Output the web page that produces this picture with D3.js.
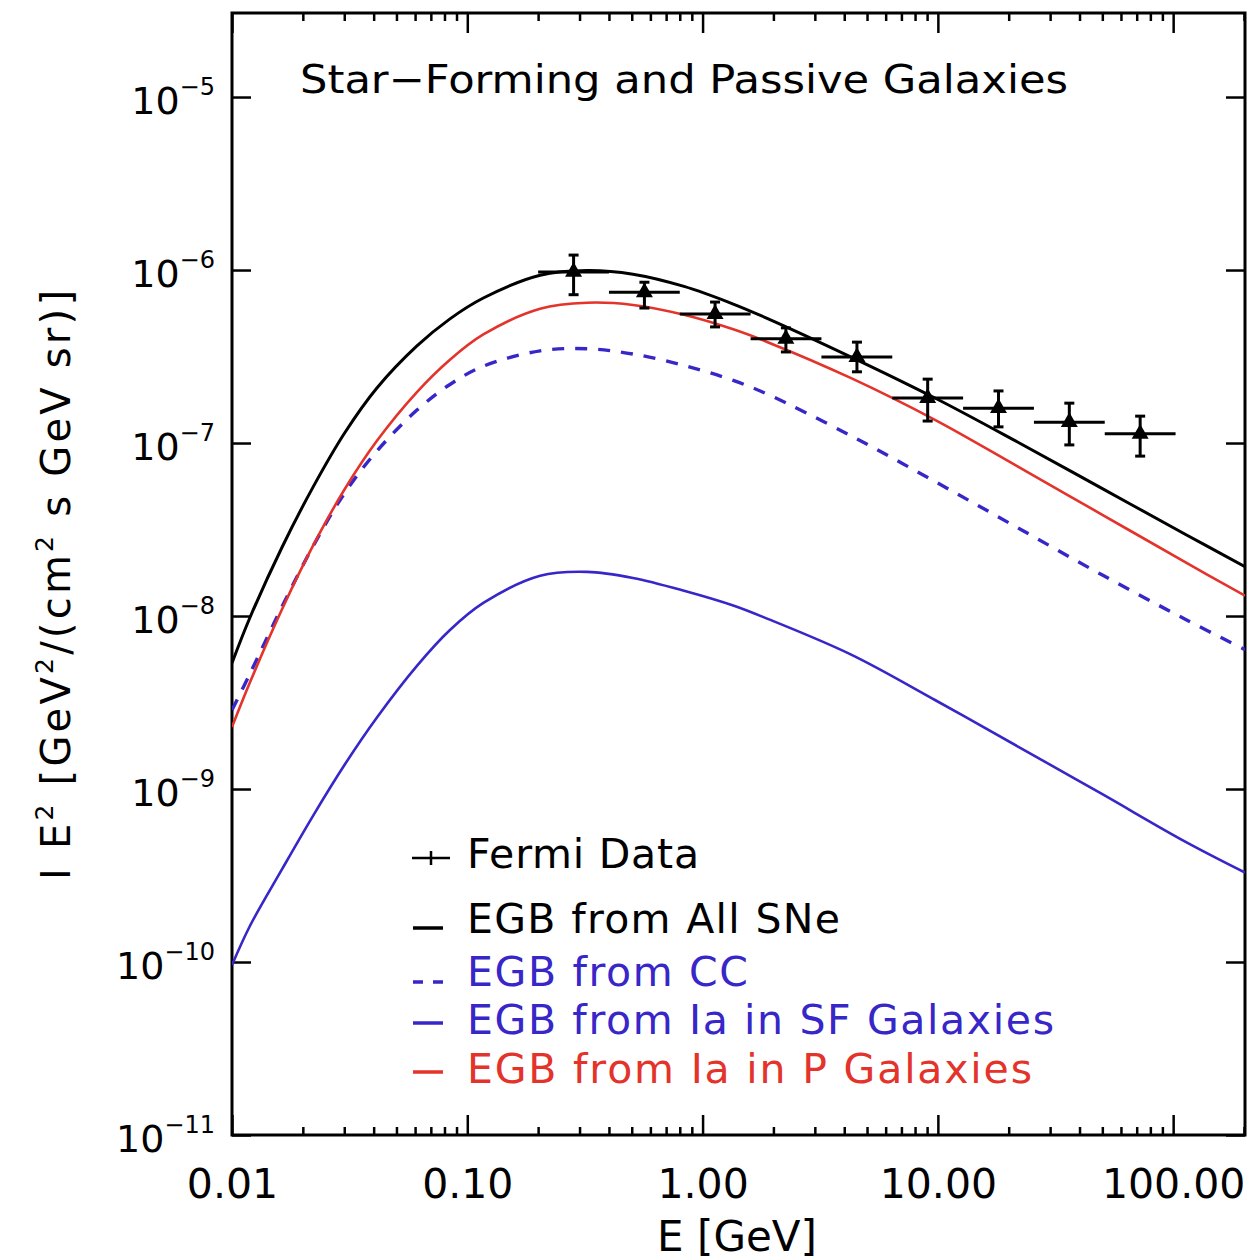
<!DOCTYPE html>
<html>
<head>
<meta charset="utf-8">
<script src="https://cdn.jsdelivr.net/npm/d3@7"></script>
<style>
  body { margin: 0; background: #fff; }
  svg text { font-family: "DejaVu Sans", sans-serif; fill: #000; }
</style>
</head>
<body>
<div id="chart"></div>
<script>
// Energy grid the model curves were read at [GeV]
const energies = [0.01, 0.0119, 0.0163, 0.0221, 0.0302, 0.0413, 0.0611, 0.0844, 0.117, 0.204, 0.323,
                  0.506, 0.834, 1.35, 1.88, 4.28, 9.72, 21.9, 49.8, 113, 202];
// EGB from all SNe (black)
const egbAllSNe = [5.35e-9, 9.74e-9, 2.49e-8, 5.56e-8, 1.15e-7, 2.08e-7, 3.64e-7, 5.22e-7, 6.89e-7, 9.33e-7, 9.93e-7,
                   9.46e-7, 8.04e-7, 6.36e-7, 5.26e-7, 3.14e-7, 1.82e-7, 1.01e-7, 5.47e-8, 2.96e-8, 1.93e-8];
// EGB from core collapse (blue dashed)
const egbCC = [2.86e-9, 4.62e-9, 1.13e-8, 2.53e-8, 5.17e-8, 8.99e-8, 1.55e-7, 2.18e-7, 2.78e-7, 3.41e-7, 3.51e-7,
               3.27e-7, 2.81e-7, 2.30e-7, 1.92e-7, 1.10e-7, 5.99e-8, 3.23e-8, 1.73e-8, 9.55e-9, 6.39e-9];
// EGB from Ia in star-forming galaxies (blue)
const egbIaSF = [9.6e-11, 1.61e-10, 3.43e-10, 7.0e-10, 1.39e-9, 2.59e-9, 5.15e-9, 8.3e-9, 1.19e-8, 1.71e-8, 1.80e-8,
                 1.66e-8, 1.40e-8, 1.15e-8, 9.66e-9, 5.98e-9, 3.27e-9, 1.76e-9, 9.36e-10, 4.95e-10, 3.29e-10];
// EGB from Ia in passive galaxies (red)
const egbIaP = [2.28e-9, 4.11e-9, 1.09e-8, 2.55e-8, 5.44e-8, 1.03e-7, 1.97e-7, 3.03e-7, 4.24e-7, 5.97e-7, 6.47e-7,
                6.28e-7, 5.51e-7, 4.54e-7, 3.84e-7, 2.37e-7, 1.36e-7, 7.3e-8, 3.86e-8, 2.04e-8, 1.31e-8];

// Fermi data points
const fermiE = [0.283, 0.566, 1.13, 2.26, 4.53, 9.05, 18.1, 36.2, 72.4];
const fermiBinLo = [0.2, 0.4, 0.8, 1.6, 3.2, 6.4, 12.8, 25.6, 51.2];
const fermiBinHi = [0.4, 0.8, 1.6, 3.2, 6.4, 12.8, 25.6, 51.2, 102.4];
const fermiI = [9.75e-7, 7.43e-7, 5.57e-7, 4.0e-7, 3.14e-7, 1.82e-7, 1.59e-7, 1.32e-7, 1.13e-7];
const fermiErrHi = [1.22e-6, 8.5e-7, 6.53e-7, 4.63e-7, 3.83e-7, 2.34e-7, 2.0e-7, 1.7e-7, 1.43e-7];
const fermiErrLo = [7.2e-7, 6.03e-7, 4.69e-7, 3.36e-7, 2.58e-7, 1.34e-7, 1.24e-7, 9.75e-8, 8.4e-8];

// Ticks
const xTickValues = [0.01, 0.1, 1, 10, 100];
const xTickLabels = ["0.01", "0.10", "1.00", "10.00", "100.00"];
const yTickExponents = [-11, -10, -9, -8, -7, -6, -5];

// Legend labels
const legendLabels = ["Fermi Data", "EGB from All SNe", "EGB from CC", "EGB from Ia in SF Galaxies", "EGB from Ia in P Galaxies"];

const blue = "#3726c8";
const red = "#e3332b";

const plotChart = (svgElemId) => {
   const svgWidth = 1255;
   const svgHeight = 1260;
   const left = 232, right = 1245, top = 13, bottom = 1135;

   const svg = d3.select(svgElemId)
                 .append("svg")
                 .attr("width", svgWidth)
                 .attr("height", svgHeight);

   // **Scales
   const x = d3.scaleLog().domain([0.01, 202]).range([left, right]);
   const y = d3.scaleLog().domain([1e-11, 3.06e-5]).range([bottom, top]);

   // minor x ticks 2..9 per decade
   const xMinor = [];
   xTickValues.forEach(d => {
      for (let k = 2; k <= 9; k++) if (d * k < 202) xMinor.push(d * k);
   });

   // **Axes (inward ticks)
   const tickStyle = g => {
      g.select(".domain").remove();
      g.selectAll("line").attr("stroke", "#000").attr("stroke-width", 2.5);
   };
   svg.append("g")
      .attr("transform", `translate(0, ${bottom})`)
      .call(d3.axisBottom(x).tickValues(xTickValues).tickSizeInner(-20).tickSizeOuter(0)
               .tickPadding(34).tickFormat((d, i) => xTickLabels[i]))
      .call(tickStyle)
      .call(g => g.selectAll("text").attr("font-size", 41).attr("fill", "#000"));
   svg.append("g")
      .attr("transform", `translate(0, ${bottom})`)
      .call(d3.axisBottom(x).tickValues(xMinor).tickSizeInner(-8).tickSizeOuter(0).tickFormat(""))
      .call(tickStyle);
   svg.append("g")
      .attr("transform", `translate(0, ${top})`)
      .call(d3.axisTop(x).tickValues(xTickValues).tickSizeInner(-20).tickSizeOuter(0).tickFormat(""))
      .call(tickStyle);
   svg.append("g")
      .attr("transform", `translate(0, ${top})`)
      .call(d3.axisTop(x).tickValues(xMinor).tickSizeInner(-8).tickSizeOuter(0).tickFormat(""))
      .call(tickStyle);

   const yTicks = yTickExponents.map(e => Math.pow(10, e));
   svg.append("g")
      .attr("transform", `translate(${left}, 0)`)
      .call(d3.axisLeft(y).tickValues(yTicks).tickSizeInner(-19).tickSizeOuter(0).tickFormat(""))
      .call(tickStyle);
   svg.append("g")
      .attr("transform", `translate(${right}, 0)`)
      .call(d3.axisRight(y).tickValues(yTicks).tickSizeInner(-19).tickSizeOuter(0).tickFormat(""))
      .call(tickStyle);

   // y tick labels with superscript exponents
   svg.append("g")
      .selectAll("text")
      .data(yTickExponents)
      .join("text")
      .attr("x", 215)
      .attr("y", d => y(Math.pow(10, d)) + 17)
      .attr("text-anchor", "end")
      .attr("font-size", 38)
      .each(function(d) {
         const t = d3.select(this);
         t.append("tspan").text("10");
         t.append("tspan").attr("dy", -19).attr("font-size", 24).text("\u2212" + Math.abs(d));
      });

   // **Frame
   svg.append("rect")
      .attr("x", left).attr("y", top)
      .attr("width", right - left).attr("height", bottom - top)
      .attr("fill", "none").attr("stroke", "#000").attr("stroke-width", 3);

   // **Axis titles
   svg.append("text")
      .attr("x", 737).attr("y", 1251)
      .attr("text-anchor", "middle")
      .attr("font-size", 42)
      .text("E  [GeV]");

   const yTitle = svg.append("text")
      .attr("transform", "translate(70, 585) rotate(-90)")
      .attr("text-anchor", "middle")
      .attr("font-size", 40)
      .attr("textLength", 590)
      .attr("lengthAdjust", "spacing");
   const sup = (txt) => { yTitle.append("tspan").attr("dy", -17).attr("font-size", 25).text(txt); };
   const base = (txt, first) => { yTitle.append("tspan").attr("dy", first ? 0 : 17).text(txt); };
   base("I E", true); sup("2"); base(" [GeV"); sup("2"); base("/(cm"); sup("2"); base(" s GeV sr)]");

   // **Title
   svg.append("text")
      .attr("x", 300).attr("y", 93)
      .attr("font-size", 39)
      .attr("textLength", 768)
      .attr("lengthAdjust", "spacingAndGlyphs")
      .text("Star\u2212Forming and Passive Galaxies");

   // **Model curves
   svg.append("clipPath").attr("id", "plot-clip")
      .append("rect")
      .attr("x", left).attr("y", top)
      .attr("width", right - left).attr("height", bottom - top);

   const line = d3.line()
                  .x(d => x(d[0]))
                  .y(d => y(d[1]))
                  .curve(d3.curveCatmullRom.alpha(0.5));

   const curves = [
      { values: egbIaSF, color: blue, width: 2.6, dash: null },
      { values: egbCC, color: blue, width: 3.4, dash: "12,11" },
      { values: egbIaP, color: red, width: 2.6, dash: null },
      { values: egbAllSNe, color: "#000", width: 3, dash: null }
   ];
   const gCurves = svg.append("g").attr("clip-path", "url(#plot-clip)");
   curves.forEach(c => {
      gCurves.append("path")
             .datum(energies.map((e, i) => [e, c.values[i]]))
             .attr("d", line)
             .attr("fill", "none")
             .attr("stroke", c.color)
             .attr("stroke-width", c.width)
             .attr("stroke-dasharray", c.dash);
   });

   // **Fermi data with error bars
   const gFermi = svg.append("g").attr("stroke", "#000").attr("stroke-width", 3);
   fermiE.forEach((e, i) => {
      gFermi.append("line")
            .attr("x1", x(fermiBinLo[i])).attr("x2", x(fermiBinHi[i]))
            .attr("y1", y(fermiI[i])).attr("y2", y(fermiI[i]));
      gFermi.append("line")
            .attr("x1", x(e)).attr("x2", x(e))
            .attr("y1", y(fermiErrLo[i])).attr("y2", y(fermiErrHi[i]));
      [fermiErrLo[i], fermiErrHi[i]].forEach(v => {
         gFermi.append("line")
               .attr("x1", x(e) - 5).attr("x2", x(e) + 5)
               .attr("y1", y(v)).attr("y2", y(v));
      });
      svg.append("path")
         .attr("d", d3.symbol(d3.symbolTriangle, 125)())
         .attr("transform", `translate(${x(e)}, ${y(fermiI[i])})`)
         .attr("fill", "#000");
   });

   // **Legend
   const legendX = 467;
   const legendY = [868, 933, 986, 1034, 1083];
   const legendWidths = [232, 373, 281, 587, 565];
   const legendColors = ["#000", "#000", blue, blue, red];
   const gLegend = svg.append("g");
   gLegend.selectAll("text")
          .data(legendLabels)
          .join("text")
          .attr("x", legendX)
          .attr("y", (d, i) => legendY[i])
          .attr("font-size", 41)
          .attr("textLength", (d, i) => legendWidths[i])
          .attr("lengthAdjust", "spacing")
          .style("fill", (d, i) => legendColors[i])
          .text(d => d);
   // plus sign for Fermi data
   gLegend.append("line").attr("x1", 412).attr("x2", 450).attr("y1", 858).attr("y2", 858)
          .attr("stroke", "#000").attr("stroke-width", 2.5);
   gLegend.append("line").attr("x1", 431).attr("x2", 431).attr("y1", 851).attr("y2", 865)
          .attr("stroke", "#000").attr("stroke-width", 2.5);
   // line samples
   gLegend.append("line").attr("x1", 413).attr("x2", 443).attr("y1", 928).attr("y2", 928)
          .attr("stroke", "#000").attr("stroke-width", 3.5);
   gLegend.append("line").attr("x1", 413).attr("x2", 443).attr("y1", 982).attr("y2", 982)
          .attr("stroke", blue).attr("stroke-width", 3.5).attr("stroke-dasharray", "10,10");
   gLegend.append("line").attr("x1", 413).attr("x2", 443).attr("y1", 1023).attr("y2", 1023)
          .attr("stroke", blue).attr("stroke-width", 3.5);
   gLegend.append("line").attr("x1", 413).attr("x2", 443).attr("y1", 1072).attr("y2", 1072)
          .attr("stroke", red).attr("stroke-width", 3.5);
};

plotChart("#chart");
</script>
</body>
</html>
